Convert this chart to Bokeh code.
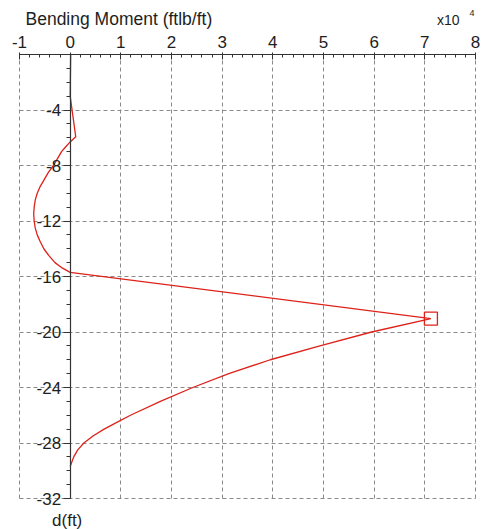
from bokeh.plotting import figure
from bokeh.models import FixedTicker, Grid, Label, Range1d, LinearAxis
from bokeh.embed import file_html
from bokeh.resources import INLINE

# ---- data (moment in units of 1e4 ftlb/ft, depth in ft) ----
depth_ft = [0, -3.0, -5.93, -6.3, -6.7, -7, -7.5, -8, -8.5, -9, -9.5, -10, -10.5, -11, -11.5,
            -12, -12.5, -13, -13.5, -14, -14.5, -15, -15.4, -15.7,
            -19.04, -20, -21, -22, -23, -24, -25, -26, -26.5, -27, -27.5, -28, -28.5, -29, -29.5, -29.7]
moment = [0.01, 0.0, 0.11, 0.0, -0.1, -0.17, -0.25, -0.33, -0.43, -0.51, -0.59, -0.65, -0.69, -0.71, -0.72,
          -0.71, -0.69, -0.65, -0.59, -0.52, -0.42, -0.30, -0.15, 0.0,
          7.12, 5.95, 4.93, 3.95, 3.13, 2.42, 1.78, 1.19, 0.93, 0.67, 0.45, 0.27, 0.15, 0.07, 0.02, 0.0]
max_depth = [-19.04]
max_moment = [7.12]

x_ticks = [-1, 0, 1, 2, 3, 4, 5, 6, 7, 8]
x_tick_labels = ["-1", "0", "1", "2", "3", "4", "5", "6", "7", "8"]
x_minor = [round(-1 + 0.2 * i, 2) for i in range(46)]
y_ticks = [-4, -8, -12, -16, -20, -24, -28, -32]
y_tick_labels = ["-4", "-8", "-12", "-16", "-20", "-24", "-28", "-32"]
y_grid_ticks = [0, -4, -8, -12, -16, -20, -24, -28, -32]
y_minor = list(range(-1, -32, -1))

x_lo, x_hi = x_ticks[0], x_ticks[-1]
y_lo, y_hi = y_grid_ticks[-1], y_grid_ticks[0]

FONT = "Liberation Sans"
AX = "#333333"
GRID = "#8a8a8a"
RED = "#dd2219"
TXT = "#1e1e1e"

W, H = 493, 529
FL, FR, FT, FB = 19, 475, 54, 498   # pixel extents of the -1..8 / 0..-32 box
sx = (FR - FL) / (x_hi - x_lo)
sy = (FB - FT) / (y_hi - y_lo)
x_range = Range1d(x_lo - FL / sx, x_hi + (W - FR) / sx)
y_range = Range1d(y_lo - (H - FB) / sy, y_hi + FT / sy)

p = figure(width=W, height=H, x_range=x_range, y_range=y_range,
           x_axis_location=None, y_axis_location=None,
           output_backend="svg", toolbar_location=None,
           min_border=0)
p.outline_line_color = None
p.background_fill_color = "white"
# drop the default grids
p.center = [r for r in p.center if not isinstance(r, Grid)]

# grids limited to the data box
p.add_layout(Grid(dimension=0, ticker=FixedTicker(ticks=x_ticks), cross_bounds=(y_lo, y_hi),
                  grid_line_color=GRID, grid_line_dash="4 3", grid_line_width=1))
p.add_layout(Grid(dimension=1, ticker=FixedTicker(ticks=y_grid_ticks), cross_bounds=(x_lo, x_hi),
                  grid_line_color=GRID, grid_line_dash="4 3", grid_line_width=1))

# x axis on top (at depth 0)
xa = LinearAxis(fixed_location=0, bounds=(x_lo, x_hi),
                ticker=FixedTicker(ticks=x_ticks, minor_ticks=x_minor))
xa.major_label_overrides = {t: l for t, l in zip(x_ticks, x_tick_labels)}
xa.major_label_text_font = FONT
xa.major_label_text_font_size = "17px"
xa.major_label_text_color = TXT
xa.major_label_standoff = 5
xa.axis_line_color = AX
xa.major_tick_line_color = AX
xa.minor_tick_line_color = AX
xa.major_tick_in = 5
xa.major_tick_out = 2
xa.minor_tick_in = 3
xa.minor_tick_out = 0
p.add_layout(xa, "above")

# y axis at moment 0
ya = LinearAxis(fixed_location=0, bounds=(y_lo, y_hi),
                ticker=FixedTicker(ticks=y_ticks, minor_ticks=y_minor))
ya.major_label_overrides = {t: l for t, l in zip(y_ticks, y_tick_labels)}
ya.major_label_text_font = FONT
ya.major_label_text_font_size = "17px"
ya.major_label_text_color = TXT
ya.major_label_standoff = 2
ya.axis_line_color = AX
ya.axis_line_width = 1.2
ya.major_tick_line_color = AX
ya.minor_tick_line_color = AX
ya.major_tick_in = 0
ya.major_tick_out = 7
ya.minor_tick_in = 0
ya.minor_tick_out = 4
p.add_layout(ya, "left")

# curve
p.line(moment, depth_ft, line_color=RED, line_width=1.3)
p.scatter(max_moment, max_depth, marker="square", size=13, line_color=RED,
          fill_color=None, line_width=1.3)

# texts
p.add_layout(Label(x=x_lo, y=y_hi, x_offset=6, y_offset=36, text="Bending Moment (ftlb/ft)",
                   text_font=FONT, text_font_size="17.5px", text_baseline="alphabetic",
                   text_align="left", text_color=TXT))
p.add_layout(Label(x=x_hi, y=y_hi, x_offset=-16, y_offset=35, text="x10",
                   text_font=FONT, text_font_size="14px", text_baseline="alphabetic",
                   text_align="right", text_color=TXT))
p.add_layout(Label(x=x_hi, y=y_hi, x_offset=-6, y_offset=42, text="4",
                   text_font=FONT, text_font_size="9px", text_baseline="alphabetic",
                   text_align="left", text_color=TXT))
p.add_layout(Label(x=0, y=y_lo, x_offset=-3, y_offset=-22, text="d(ft)",
                   text_font=FONT, text_font_size="17px", text_baseline="alphabetic",
                   text_align="center", text_color=TXT))

open("out.html", "w").write(file_html(p, INLINE))
